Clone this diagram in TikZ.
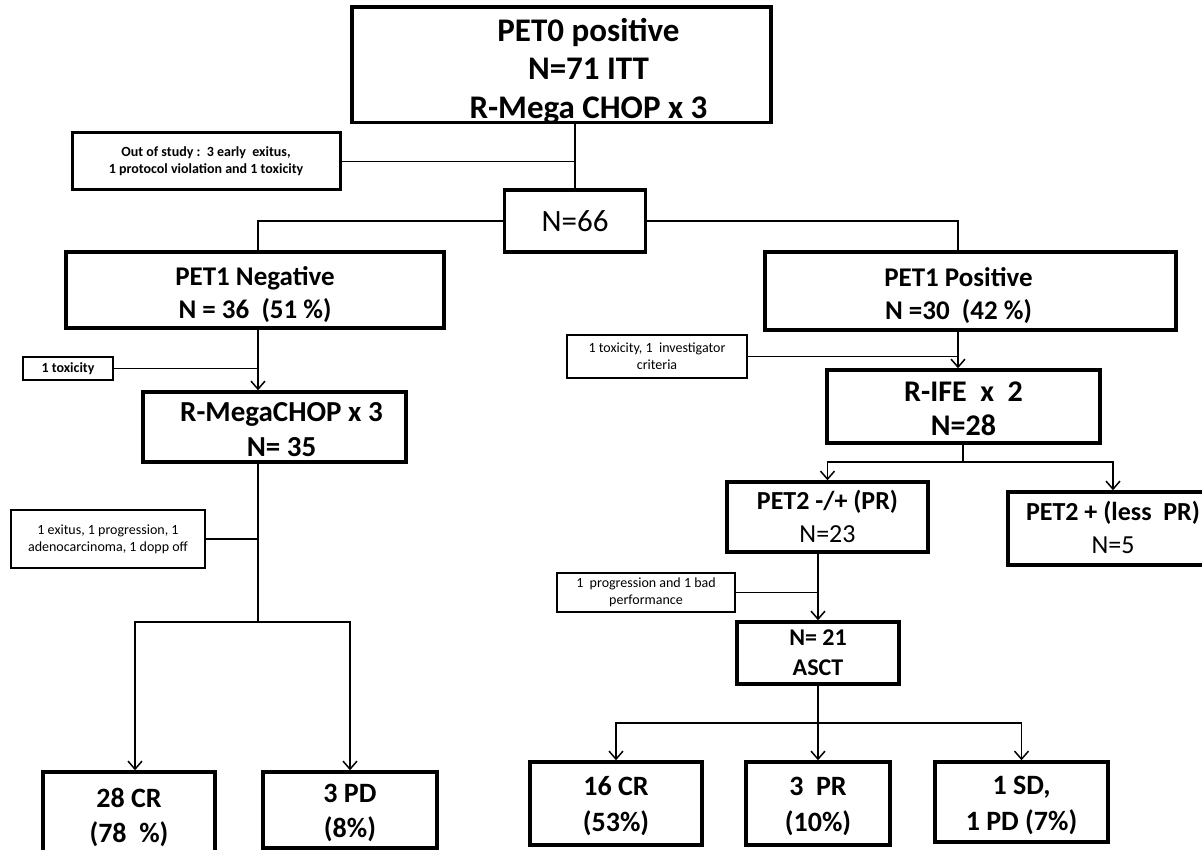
\documentclass[tikz,border=0pt]{standalone}
\usepackage{fontspec}
\setmainfont{Carlito}
\usetikzlibrary{arrows.meta,calc}
% #1 horizontal offset (twice the shift), #2 downward shift, #3 lines
\newcommand{\boxlines}[3][0pt]{\raisebox{-#2}[\height][\depth]{\hspace*{#1}\begin{tabular}{@{}c@{}}#3\end{tabular}}}
\begin{document}
\begin{tikzpicture}[x=1pt,y=-1pt,
  box/.style={draw=black, line width=3.5pt, fill=white, align=center, inner sep=0pt},
  sbox/.style={draw=black, line width=1.8pt, fill=white, align=center, inner sep=0pt},
  bigtxt/.style={font=\fontsize{33}{38.5}\selectfont\bfseries},
  midtxt/.style={font=\fontsize{27}{33}\selectfont\bfseries},
  bottxt/.style={font=\fontsize{28}{35}\selectfont\bfseries},
  pettxt/.style={font=\fontsize{26}{33}\selectfont\bfseries},
  smalltxt/.style={font=\fontsize{14}{17}\selectfont},
  conn/.style={line width=1.5pt},
  arr/.style={conn, -{Straight Barb[length=8pt,width=14pt,line width=1.5pt]}},
]
\useasboundingbox (0,0) rectangle (1202,850);
\fill[white] (0,0) rectangle (1202,850);
\clip (0,0) rectangle (1202,850);

% main boxes
\node[box, bigtxt, minimum width=419, minimum height=110] (top) at (561.5,65) {\boxlines[54pt]{7pt}{PET0 positive\\N=71 ITT\\R-Mega CHOP x 3}};
\node[sbox, smalltxt, line width=3pt, minimum width=268, minimum height=57] (oos) at (206,161.5) {\bfseries Out of study :~~3 early~~exitus,\\\bfseries 1 protocol violation and 1 toxicity};
\node[box, font=\fontsize{31}{36}\selectfont, minimum width=141, minimum height=62] (n66) at (575,221) {N=66};
\node[box, midtxt, minimum width=378, minimum height=76] (neg) at (255,290) {\boxlines{5pt}{PET1 Negative\\N = 36~~(51 \%)}};
\node[box, midtxt, minimum width=411, minimum height=78] (pos) at (970.5,291) {\boxlines[-24pt]{5pt}{PET1 Positive\\N =30~~(42 \%)}};
\node[sbox, smalltxt, minimum width=90, minimum height=23] (tox1) at (68,368.5) {\bfseries 1 toxicity};
\node[box, font=\fontsize{29}{35}\selectfont\bfseries, minimum width=263, minimum height=70] (mega) at (274.5,427) {\boxlines[14pt]{5pt}{R-MegaCHOP x 3\\N= 35}};
\node[sbox, smalltxt, minimum width=180, minimum height=43] (tox2) at (657,356.5) {1 toxicity, 1~~investigator\\criteria};
\node[box, font=\fontsize{30}{34}\selectfont\bfseries, minimum width=273, minimum height=73] (rife) at (963.5,406.5) {\boxlines{5pt}{R-IFE~~x~~2\\N=28}};
\node[box, pettxt, minimum width=201, minimum height=70] (pet2a) at (827.5,517) {\boxlines{2pt}{PET2 -/+ (PR)\\{\mdseries N=23}}};
\node[box, pettxt, minimum width=210, minimum height=73] (pet2b) at (1113,528.5) {\boxlines{2pt}{PET2 + (less~~PR)\\{\mdseries N=5}}};
\node[sbox, smalltxt, line width=2.2pt, minimum width=194, minimum height=58] (ex) at (108,539) {1 exitus, 1 progression, 1\\adenocarcinoma, 1 dopp off};
\node[sbox, smalltxt, minimum width=178, minimum height=39] (prog) at (646,592.5) {1~~progression and 1 bad\\performance};
\node[box, font=\fontsize{24}{30}\selectfont\bfseries, minimum width=162, minimum height=62] (asct) at (818,653) {N= 21\\ASCT};
\node[box, bottxt, minimum width=172, minimum height=86] (cr28) at (129,815) {\boxlines{3pt}{28 CR\\(78~~\%)}};
\node[box, bottxt, minimum width=174, minimum height=76] (pd3) at (350,810) {\boxlines{3pt}{3 PD\\(8\%)}};
\node[box, font=\fontsize{28}{36}\selectfont\bfseries, minimum width=172, minimum height=83] (cr16) at (616,803.5) {\boxlines{3pt}{16 CR\\(53\%)}};
\node[box, font=\fontsize{28}{36}\selectfont\bfseries, minimum width=144, minimum height=83] (pr3) at (818,803.5) {\boxlines{3pt}{3~~PR\\(10\%)}};
\node[box, font=\fontsize{28}{36}\selectfont\bfseries, minimum width=173, minimum height=80] (sd) at (1021.5,802) {\boxlines{3pt}{1 SD,\\1 PD (7\%)}};

% junction coordinates
\coordinate (negT) at ($(neg.south)+(3,0)$);
\coordinate (posT) at ($(pos.south)+(-12.5,0)$);
\coordinate (lj) at (258,622);
\coordinate (rj) at (963,462);
\coordinate (bj) at (818,723);

% connectors
\draw[conn] (top.south -| n66.north) -- (n66.north);
\draw[conn] (oos.east) -- (oos.east -| n66.north);
\draw[conn] (n66.west) -| (neg.north -| negT);
\draw[conn] (n66.east) -| (pos.north -| posT);

\draw[arr] (negT) -- (mega.north -| negT);
\draw[conn] (tox1.east) -- (tox1.east -| negT);
\draw[conn] (mega.south -| lj) -- (lj);
\draw[conn] (ex.east) -- (ex.east -| lj);
\draw[arr] (lj) -| ($(cr28.north)+(6,0)$);
\draw[arr] (lj) -| (pd3.north);

\draw[arr] (posT) -- (rife.north -| posT);
\draw[conn] (tox2.east) -- (tox2.east -| posT);
\draw[conn] (rife.south -| rj) -- (rj);
\draw[arr] (rj) -| (pet2a.north);
\draw[arr] (rj) -| (pet2b.north);
\draw[arr] (pet2a.south -| asct.north) -- (asct.north);
\draw[conn] (prog.east) -- (prog.east -| asct.north);
\draw[conn] (asct.south) -- (bj);
\draw[arr] (bj) -| (cr16.north);
\draw[arr] (bj) -- (pr3.north);
\draw[arr] (bj) -| (sd.north);
\end{tikzpicture}
\end{document}
